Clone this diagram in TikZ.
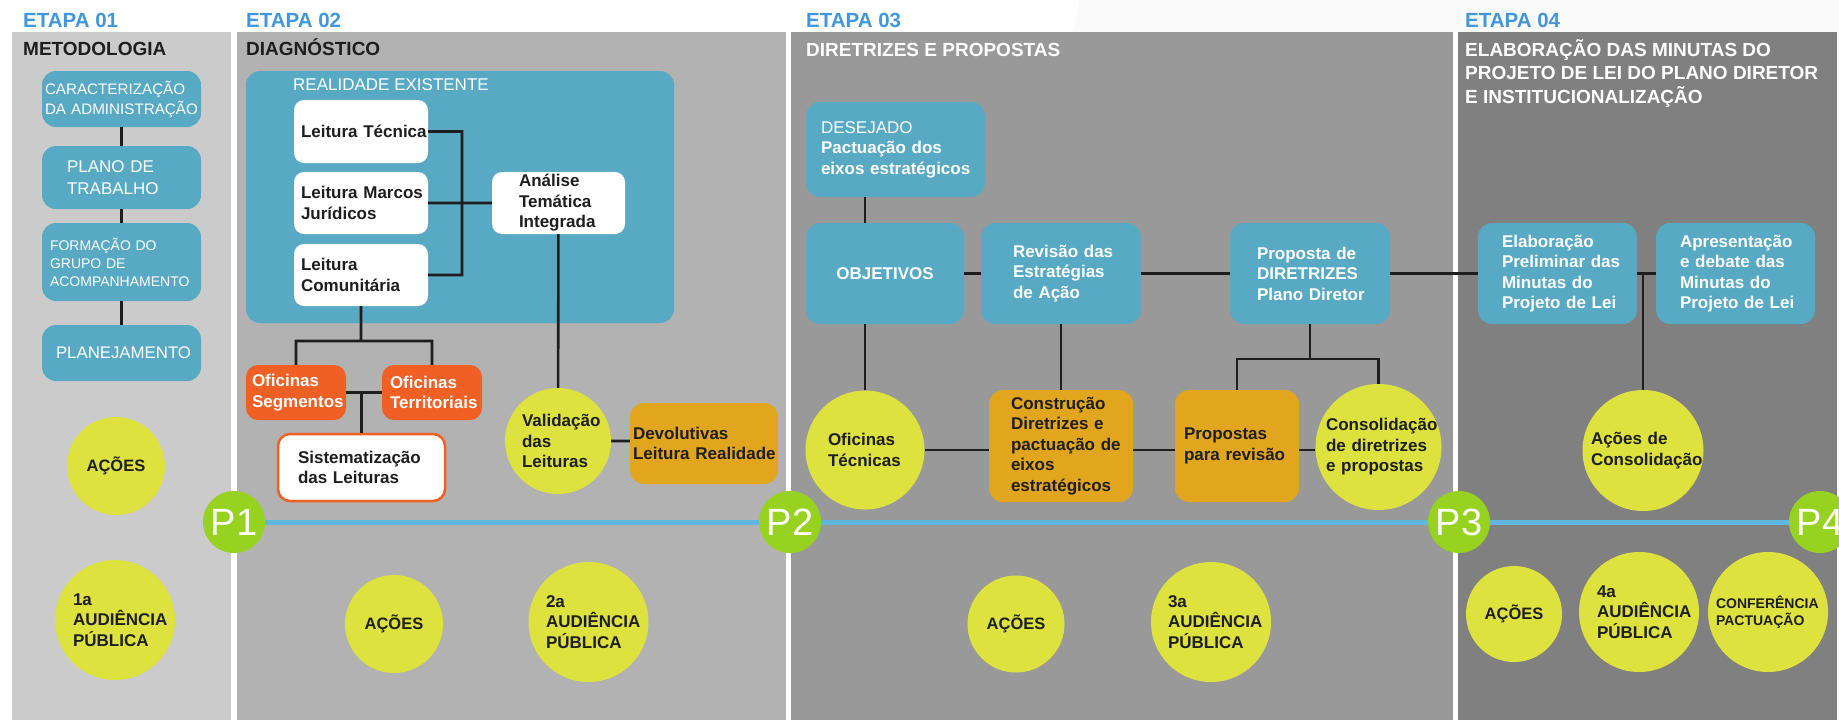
\documentclass[tikz,border=0pt]{standalone}
\usepackage{fontspec}
\setmainfont{Liberation Sans}

\definecolor{panelA}{HTML}{CBCBCB}
\definecolor{panelB}{HTML}{B2B2B2}
\definecolor{panelC}{HTML}{999999}
\definecolor{panelD}{HTML}{808080}
\definecolor{boxblue}{HTML}{58A9C3}
\definecolor{etapablue}{HTML}{4296DC}
\definecolor{dotyellow}{HTML}{DEE23E}
\definecolor{boxorange}{HTML}{F05F23}
\definecolor{boxgold}{HTML}{E1A51E}
\definecolor{markgreen}{HTML}{97D220}
\definecolor{lineblue}{HTML}{60B6DE}
\definecolor{darktext}{HTML}{1E1E1E}

\hyphenpenalty=10000
\exhyphenpenalty=10000
\hbadness=10000
\hfuzz=40pt

\newcommand{\txtsz}{\fontsize{17}{20.5}\selectfont}
\newcommand{\hdsz}{\fontsize{19}{23.5}\selectfont}

\tikzset{
    sz/.style 2 args={minimum width=#1pt, minimum height=#2pt},
    tw/.style={text width=#1pt},
    dia/.style={minimum size=#1pt},
    basebox/.style={rectangle, inner sep=0pt, align=left, font=\bfseries\txtsz},
    bluebox/.style={basebox, fill=boxblue, rounded corners=14pt, text=white},
    whitebox/.style={basebox, fill=white, rounded corners=10pt, text=darktext},
    orangebox/.style={basebox, fill=boxorange, rounded corners=12pt, text=white},
    goldbox/.style={basebox, fill=boxgold, rounded corners=14pt, text=darktext},
    yellowdot/.style={circle, inner sep=0pt, fill=dotyellow, text=darktext, align=left, font=\bfseries\txtsz},
    pmark/.style={circle, inner sep=0pt, fill=markgreen, text=white, minimum size=62pt, font=\fontsize{38}{38}\selectfont},
    heading/.style={anchor=base west, inner sep=0pt, font=\bfseries\hdsz},
    etapa/.style={heading, text=etapablue, font=\bfseries\fontsize{20.5}{24}\selectfont},
    link/.style={line width=2.6pt, draw=darktext},
    timeline/.style={line width=5pt, draw=lineblue},
}

\newcommand{\bluen}{\node[bluebox]}
\newcommand{\whiten}{\node[whitebox]}
\newcommand{\orangen}{\node[orangebox]}
\newcommand{\goldn}{\node[goldbox]}
\newcommand{\dotn}{\node[yellowdot]}
\newcommand{\markn}{\node[pmark]}

\begin{document}
\begin{tikzpicture}[x=1pt, y=-1pt]
    \useasboundingbox (0,0) rectangle (1839,721);
    \fill[white] (0,0) rectangle (1839,721);
    \fill[black!2] (1080,0) -- (1839,0) -- (1839,32) -- (1072,32) -- cycle;
    \fill[panelA] (12,32) rectangle (231,720);
    \fill[panelB] (237,32) rectangle (786,720);
    \fill[panelC] (791,32) rectangle (1453,720);
    \fill[panelD] (1458,32) rectangle (1837,720);

    \node[etapa] (et1) at (23,27) {ETAPA 01};
    \node[etapa] (et2) at (246,27) {ETAPA 02};
    \node[etapa] (et3) at (806,27) {ETAPA 03};
    \node[etapa] (et4) at (1465,27) {ETAPA 04};
    \node[heading, text=darktext] (hd1) at (23,55) {METODOLOGIA};
    \node[heading, text=darktext] (hd2) at (246,55) {DIAGNÓSTICO};
    \node[heading, text=white] (hd3) at (806,56) {DIRETRIZES E PROPOSTAS};
    \node[heading, text=white, anchor=north west, align=left] (hd4) at (1465,39)
        {ELABORAÇÃO DAS MINUTAS DO\\PROJETO DE LEI DO PLANO DIRETOR\\E INSTITUCIONALIZAÇÃO};

    \bluen[sz={159}{56}, tw=153, font=\fontsize{15.2}{20}\selectfont] (carac) at (121.5,99) {CARACTERIZAÇÃO\\DA~ADMINISTRAÇÃO};
    \bluen[sz={159}{63}, tw=109, font=\fontsize{17}{21.5}\selectfont] (plano) at (121.5,177.5) {PLANO~DE\\TRABALHO};
    \bluen[sz={159}{78}, tw=143, font=\fontsize{14}{18}\selectfont] (grupo) at (121.5,262) {FORMAÇÃO~DO\\GRUPO~DE\\ACOMPANHAMENTO};
    \bluen[sz={159}{56}, tw=131, font=\fontsize{16.8}{20}\selectfont] (planej) at (121.5,353) {PLANEJAMENTO};
    \dotn[dia=98, font=\bfseries\fontsize{16.5}{20}\selectfont] (acoes1) at (116,466) {AÇÕES};
    \dotn[dia=120, tw=84] (aud1) at (115,620) {1a\\AUDIÊNCIA\\PÚBLICA};

    \bluen[sz={428}{252}] (realid) at (460,197) {};
    \node[anchor=base west, inner sep=0pt, text=white, font=\fontsize{17}{20}\selectfont] (realtxt) at (293,90) {REALIDADE EXISTENTE};
    \whiten[sz={134}{63}, tw=120] (ltec) at (361,131.5) {Leitura~Técnica};
    \whiten[sz={134}{62}, tw=120] (lmar) at (361,203) {Leitura~Marcos\\Jurídicos};
    \whiten[sz={134}{62}, tw=120] (lcom) at (361,275) {Leitura\\Comunitária};
    \whiten[sz={133}{62}, tw=79] (anal) at (558.5,203) {Análise\\Temática\\Integrada};
    \orangen[sz={100}{55}, tw=88] (ofseg) at (296,392.5) {Oficinas\\Segmentos};
    \orangen[sz={100}{55}, tw=84] (ofter) at (432,392.5) {Oficinas\\Territoriais};
    \whiten[sz={167}{67}, tw=127, draw=boxorange, line width=2.5pt, rounded corners=12pt] (sist) at (361.5,467.5) {Sistematização\\das~Leituras};
    \dotn[dia=106, tw=72] (valid) at (558,441) {Validação\\das\\Leituras};
    \goldn[sz={148}{81}, tw=142] (devol) at (704,443.5) {Devolutivas\\Leitura~Realidade};
    \dotn[dia=98, font=\bfseries\fontsize{16.5}{20}\selectfont] (acoes2) at (394,624) {AÇÕES};
    \dotn[dia=120, tw=85] (aud2) at (588.5,622) {2a\\AUDIÊNCIA\\PÚBLICA};

    \bluen[sz={179}{95}, tw=149] (desej) at (895.5,149.5) {{\mdseries DESEJADO}\\Pactuação~dos\\eixos~estratégicos};
    \bluen[sz={158}{101}] (objet) at (885,273.5) {OBJETIVOS};
    \bluen[sz={160}{101}, tw=96] (revis) at (1061,273.5) {Revisão~das\\Estratégias\\de~Ação};
    \bluen[sz={160}{101}, tw=106] (propd) at (1310,273.5) {Proposta~de\\DIRETRIZES\\Plano~Diretor};
    \dotn[dia=119, tw=74] (oftec) at (865,450) {Oficinas\\Técnicas};
    \goldn[sz={144}{112}, tw=100] (constr) at (1061,446) {Construção\\Diretrizes~e\\pactuação~de\\eixos\\estratégicos};
    \goldn[sz={124}{112}, tw=106] (proprev) at (1237,446) {Propostas\\para~revisão};
    \dotn[dia=126, tw=105] (consol) at (1378.5,447) {Consolidação\\de~diretrizes\\e~propostas};
    \dotn[dia=97, font=\bfseries\fontsize{16.5}{20}\selectfont] (acoes3) at (1016,624) {AÇÕES};
    \dotn[dia=120, tw=86] (aud3) at (1211,622) {3a\\AUDIÊNCIA\\PÚBLICA};

    \bluen[sz={159}{101}, tw=111] (elab) at (1557.5,273.5) {Elaboração\\Preliminar~das\\Minutas~do\\Projeto~de~Lei};
    \bluen[sz={159}{101}, tw=111] (apres) at (1735.5,273.5) {Apresentação\\e~debate~das\\Minutas~do\\Projeto~de~Lei};
    \dotn[dia=121, tw=104] (acons) at (1643,450.5) {Ações~de\\Consolidação};
    \dotn[dia=96, font=\bfseries\fontsize{16.5}{20}\selectfont] (acoes4) at (1514,614) {AÇÕES};
    \dotn[dia=120, tw=84] (aud4) at (1639,612) {4a\\AUDIÊNCIA\\PÚBLICA};
    \dotn[dia=120, tw=104, font=\bfseries\fontsize{14}{17.5}\selectfont] (confer) at (1768,612) {CONFERÊNCIA\\PACTUAÇÃO};

    \markn (p1) at (234,522) {P1};
    \markn (p2) at (790,522) {P2};
    \markn (p3) at (1459,522) {P3};
    \markn (p4) at (1820,522) {P4};

    \coordinate (lbrk) at (462,203);
    \coordinate (ofj) at (361,341);
    \coordinate (pj) at (1310,359);

    \draw[timeline]
        (p1) -- (p2) -- (p3) -- (p4);

    \draw[link]
        (carac) -- (plano)
        (plano) -- (grupo)
        (grupo) -- (planej)
        ;

    \draw[link]
        (ltec.east) -| (lbrk)
        (lcom.east) -| (lbrk)
        (lmar) -- (anal)
        (lcom) -- (ofj)
        (ofseg.north) |- (ofj) -| (ofter.north)
        (ofseg) -- (ofter)
        (sist) -- (sist |- ofseg)
        (anal) -- (valid)
        (valid.east) -- (valid.east -| devol.west)
        ;

    \draw[link]
        (desej.south -| oftec) -- (objet.north -| oftec)
        (objet.south -| oftec) -- (oftec)
        (objet) -- (revis)
        (revis) -- (propd)
        (propd) -- (elab)
        (revis) -- (constr)
        (oftec.east) -- (oftec.east -| constr.west)
        (constr.east |- oftec) -- (proprev.west |- oftec)
        (proprev.east |- oftec) -- (consol.west |- oftec)
        (propd) -- (pj)
        (proprev.north) |- (pj) -| (consol.north)
        ;

    \draw[link]
        (elab) -- (apres)
        (elab.east -| acons) -- (acons)
        ;
\end{tikzpicture}
\end{document}
